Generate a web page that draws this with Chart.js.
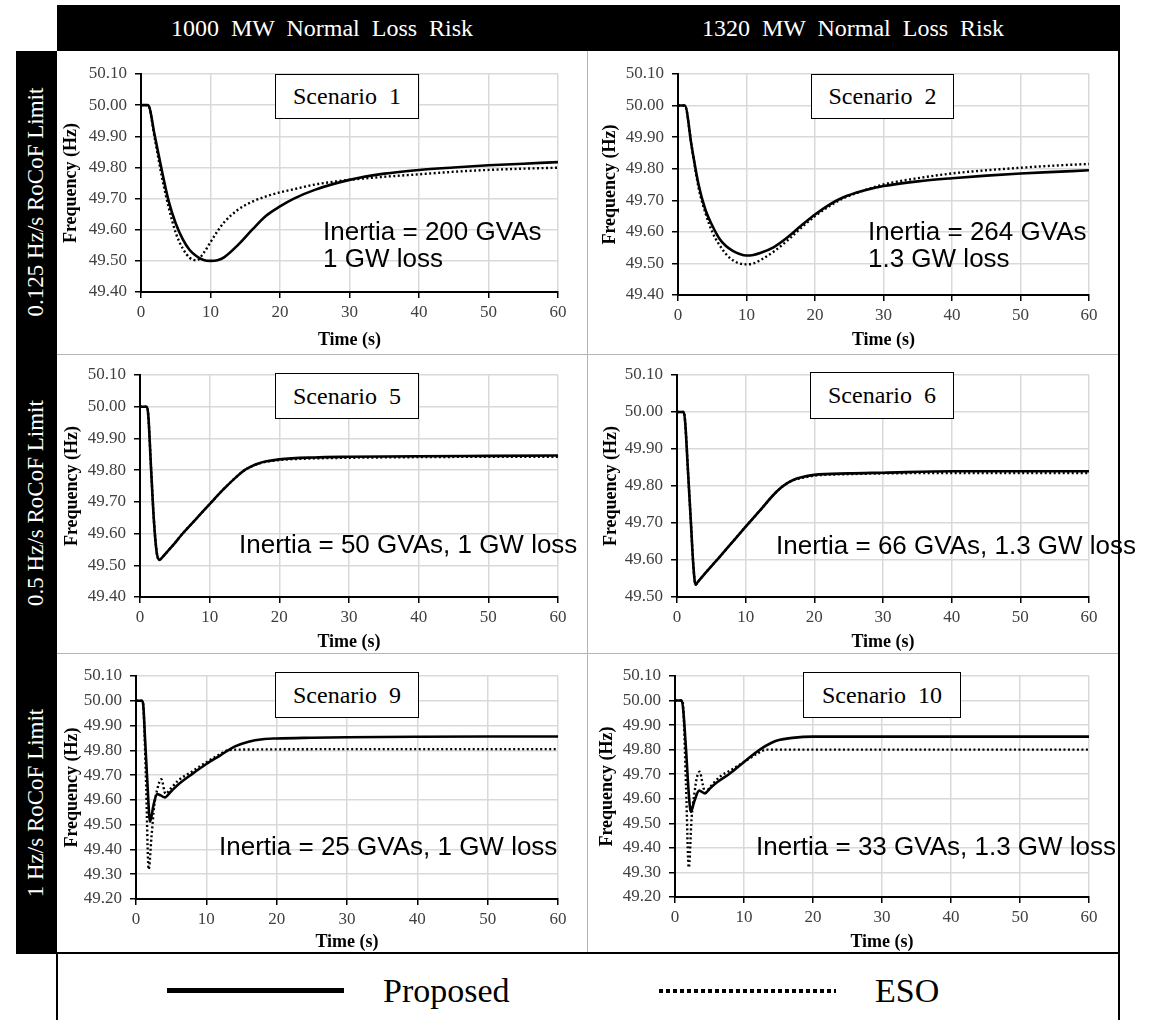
<!DOCTYPE html>
<html>
<head>
<meta charset="utf-8">
<script src="https://cdn.jsdelivr.net/npm/chart.js@4.4.1/dist/chart.umd.min.js"></script>
<style>
html, body { margin: 0; padding: 0; background: #fff; }
#fig { position: relative; width: 1166px; height: 1020px; overflow: hidden; background: #fff; font-family: 'Liberation Serif', 'Times New Roman', serif; }
.bar { position: absolute; background: #000; }
.line { position: absolute; }
.hdrText { position: absolute; top: 5px; height: 46px; color: #fff; font-size: 24px; word-spacing: 6px; display: flex; align-items: center; justify-content: center; white-space: nowrap; }
.rowText { position: absolute; left: 36px; color: #fff; font-size: 23px; white-space: nowrap; transform: translate(-50%, -50%) rotate(-90deg); }
canvas { position: absolute; }
.box { position: absolute; background: #fff; border: 1.5px solid #000; box-sizing: border-box; font-size: 24px; display: flex; align-items: center; justify-content: center; white-space: pre; }
.note { position: absolute; font-family: 'Liberation Sans', Arial, sans-serif; font-size: 26px; line-height: 27px; white-space: pre; color: #000; }
.legText { position: absolute; font-size: 34px; line-height: 38px; color: #000; }
</style>
</head>
<body>
<div id="fig">
  <!-- frame -->
  <div class="bar" style="left:57px;top:5px;width:1063px;height:46px;"></div>
  <div class="bar" style="left:16px;top:51px;width:41px;height:902px;"></div>
  <div class="hdrText" style="left:57px;width:530px;">1000 MW Normal Loss Risk</div>
  <div class="hdrText" style="left:587px;width:532px;">1320 MW Normal Loss Risk</div>
  <div class="rowText" style="top:202px;">0.125 Hz/s RoCoF Limit</div>
  <div class="rowText" style="top:503px;">0.5 Hz/s RoCoF Limit</div>
  <div class="rowText" style="top:803px;">1 Hz/s RoCoF Limit</div>
</div>

<script>
// ---- data (time in s, frequency in Hz) ----
// Scenario 1 : 1000 MW, 0.125 Hz/s
const s1T    = [0, 1, 2, 3, 4, 5, 6, 7, 8, 9, 10, 11, 12, 14, 16, 18, 20, 22, 25, 30, 35, 40, 45, 50, 55, 60];
const s1Prop = [50.00, 50.00, 49.90, 49.79, 49.69, 49.62, 49.57, 49.535, 49.515, 49.503, 49.50, 49.502, 49.512, 49.552, 49.60, 49.645, 49.675, 49.70, 49.728, 49.76, 49.78, 49.792, 49.80, 49.807, 49.812, 49.817];
const s1Eso  = [50.00, 50.00, 49.89, 49.77, 49.67, 49.59, 49.54, 49.51, 49.502, 49.525, 49.56, 49.595, 49.625, 49.665, 49.69, 49.707, 49.72, 49.73, 49.745, 49.76, 49.77, 49.778, 49.786, 49.792, 49.796, 49.799];

// Scenario 2 : 1320 MW, 0.125 Hz/s
const s2T    = [0, 1, 2, 3, 4, 5, 6, 7, 8, 9, 10, 11, 12, 14, 16, 18, 20, 22, 24, 27, 30, 35, 40, 45, 50, 55, 60];
const s2Prop = [50.00, 50.00, 49.87, 49.75, 49.67, 49.62, 49.58, 49.555, 49.54, 49.53, 49.525, 49.527, 49.533, 49.552, 49.583, 49.62, 49.655, 49.685, 49.708, 49.73, 49.745, 49.76, 49.77, 49.778, 49.785, 49.79, 49.795];
const s2Eso  = [50.00, 50.00, 49.87, 49.74, 49.66, 49.60, 49.56, 49.53, 49.51, 49.50, 49.497, 49.50, 49.51, 49.538, 49.573, 49.613, 49.65, 49.68, 49.705, 49.73, 49.75, 49.77, 49.785, 49.795, 49.803, 49.81, 49.815];

// Scenario 5 : 1000 MW, 0.5 Hz/s
const s5T    = [0, 1, 1.2, 1.6, 2.0, 2.4, 2.8, 3.2, 4, 5, 6, 8, 10, 12, 14, 15, 16, 17, 18, 20, 25, 30, 40, 50, 60];
const s5Prop = [50.00, 50.00, 49.97, 49.80, 49.64, 49.54, 49.517, 49.525, 49.545, 49.57, 49.597, 49.645, 49.693, 49.74, 49.782, 49.80, 49.812, 49.821, 49.827, 49.834, 49.84, 49.842, 49.844, 49.845, 49.846];
const s5Eso  = [50.00, 50.00, 49.97, 49.80, 49.64, 49.54, 49.517, 49.525, 49.545, 49.57, 49.597, 49.645, 49.693, 49.74, 49.782, 49.80, 49.812, 49.82, 49.826, 49.832, 49.837, 49.839, 49.841, 49.842, 49.842];

// Scenario 6 : 1320 MW, 0.5 Hz/s
const s6T    = [0, 1, 1.2, 1.6, 2.0, 2.4, 2.7, 3.0, 4, 5, 6, 8, 10, 12, 14, 15, 16, 17, 18, 20, 25, 30, 40, 50, 60];
const s6Prop = [50.00, 50.00, 49.97, 49.84, 49.71, 49.58, 49.533, 49.54, 49.562, 49.583, 49.604, 49.647, 49.69, 49.732, 49.775, 49.793, 49.807, 49.817, 49.823, 49.83, 49.834, 49.836, 49.84, 49.84, 49.84];
const s6Eso  = [50.00, 50.00, 49.97, 49.84, 49.71, 49.58, 49.533, 49.54, 49.562, 49.583, 49.604, 49.647, 49.69, 49.732, 49.775, 49.793, 49.807, 49.816, 49.821, 49.828, 49.832, 49.834, 49.835, 49.835, 49.835];

// Scenario 9 : 1000 MW, 1 Hz/s
const s9PropT = [0, 0.8, 1.0, 1.3, 1.6, 2.0, 2.5, 3.0, 3.5, 4.1, 5, 6, 8, 10, 12, 14, 16, 18, 20, 25, 30, 40, 50, 60];
const s9Prop  = [50.00, 50.00, 49.99, 49.84, 49.68, 49.512, 49.58, 49.624, 49.618, 49.61, 49.635, 49.662, 49.705, 49.745, 49.78, 49.815, 49.835, 49.845, 49.848, 49.851, 49.853, 49.855, 49.856, 49.856];
const s9EsoT  = [0, 0.8, 1.0, 1.4, 1.8, 2.2, 2.6, 3.0, 3.6, 4.2, 5, 6, 8, 10, 12, 13, 15, 20, 30, 40, 50, 60];
const s9Eso   = [50.00, 50.00, 49.99, 49.70, 49.32, 49.45, 49.58, 49.64, 49.683, 49.625, 49.648, 49.678, 49.715, 49.752, 49.785, 49.80, 49.803, 49.804, 49.805, 49.805, 49.805, 49.805];

// Scenario 10 : 1320 MW, 1 Hz/s
const s10PropT = [0, 1.0, 1.2, 1.6, 2.0, 2.3, 2.8, 3.5, 4.35, 5, 6, 8, 10, 12.3, 14, 15.2, 17, 20, 30, 40, 50, 60];
const s10Prop  = [50.00, 50.00, 49.96, 49.80, 49.62, 49.547, 49.59, 49.633, 49.622, 49.64, 49.665, 49.704, 49.75, 49.80, 49.828, 49.84, 49.848, 49.853, 49.853, 49.853, 49.853, 49.853];
const s10EsoT  = [0, 1.0, 1.2, 1.6, 2.0, 2.4, 2.8, 3.2, 3.6, 4.0, 4.4, 5, 6.5, 8, 10, 12, 13.2, 15, 20, 30, 40, 50, 60];
const s10Eso   = [50.00, 50.00, 49.97, 49.65, 49.32, 49.52, 49.62, 49.69, 49.71, 49.66, 49.625, 49.645, 49.69, 49.715, 49.75, 49.785, 49.80, 49.80, 49.80, 49.80, 49.80, 49.80, 49.80];

const xTicks = [0, 60, 10];          // min, max, step
const seriesNames = ['Proposed', 'ESO'];

// ---- layout of the six panels (page pixels) ----
const panels = [
  { rect: [57, 51, 530, 303],  plot: [141, 74, 558, 292],  y: [49.4, 50.1], xTitleY: 340, yTitleX: 71,
    title: 'Scenario  1', box: [275, 74, 144, 45], note: 'Inertia = 200 GVAs\n1 GW loss', notePos: [323, 218],
    prop: [s1T, s1Prop], eso: [s1T, s1Eso] },
  { rect: [587, 51, 532, 303], plot: [678, 74, 1089, 295], y: [49.4, 50.1], xTitleY: 340, yTitleX: 610,
    title: 'Scenario  2', box: [811, 74, 143, 45], note: 'Inertia = 264 GVAs\n1.3 GW loss', notePos: [868, 218],
    prop: [s2T, s2Prop], eso: [s2T, s2Eso] },
  { rect: [57, 354, 530, 299], plot: [140, 375, 558, 597], y: [49.4, 50.1], xTitleY: 642, yTitleX: 72.5,
    title: 'Scenario  5', box: [275, 373, 144, 46], note: 'Inertia = 50 GVAs, 1 GW loss', notePos: [239, 531],
    prop: [s5T, s5Prop], eso: [s5T, s5Eso] },
  { rect: [587, 354, 532, 299], plot: [677, 375, 1089, 597], y: [49.5, 50.1], xTitleY: 642, yTitleX: 611,
    title: 'Scenario  6', box: [810, 372, 144, 47], note: 'Inertia = 66 GVAs, 1.3 GW loss', notePos: [776, 532],
    prop: [s6T, s6Prop], eso: [s6T, s6Eso] },
  { rect: [57, 653, 530, 300], plot: [136, 676, 558, 899], y: [49.2, 50.1], xTitleY: 942, yTitleX: 72.5,
    title: 'Scenario  9', box: [275, 672, 144, 46], note: 'Inertia = 25 GVAs, 1 GW loss', notePos: [219, 833],
    prop: [s9PropT, s9Prop], eso: [s9EsoT, s9Eso] },
  { rect: [587, 653, 532, 300], plot: [675, 676, 1089, 897], y: [49.2, 50.1], xTitleY: 942, yTitleX: 607,
    title: 'Scenario  10', box: [803, 672, 158, 46], note: 'Inertia = 33 GVAs, 1.3 GW loss', notePos: [756, 833],
    prop: [s10PropT, s10Prop], eso: [s10EsoT, s10Eso] }
];

const fig = document.getElementById('fig');
const SERIF = "'Liberation Serif', 'Times New Roman', serif";
Chart.defaults.font.family = SERIF;

function toPoints(t, v) { return t.map((x, i) => ({ x: x, y: v[i] })); }

function addDiv(cls, css, text) {
  const d = document.createElement('div');
  d.className = cls;
  d.style.cssText = css;
  if (text !== undefined) d.textContent = text;
  fig.appendChild(d);
  return d;
}

panels.forEach(p => {
  const [L, T, W, H] = p.rect;
  const [pl, pt, pr, pb] = p.plot;
  const cv = document.createElement('canvas');
  cv.width = W; cv.height = H;
  cv.style.left = L + 'px'; cv.style.top = T + 'px';
  cv.style.width = W + 'px'; cv.style.height = H + 'px';
  fig.appendChild(cv);

  const yW = pl - L;
  const xH = T + H - pb;
  const titleHalf = 18 * 1.2 / 2;
  const tickFont = { family: SERIF, size: 17 };
  const titleFont = { family: SERIF, size: 18, weight: 'bold' };

  new Chart(cv, {
    type: 'line',
    data: {
      datasets: [
        { label: seriesNames[0], data: toPoints(p.prop[0], p.prop[1]), borderColor: '#000', borderWidth: 2.6,
          pointRadius: 0, cubicInterpolationMode: 'monotone', fill: false },
        { label: seriesNames[1], data: toPoints(p.eso[0], p.eso[1]), borderColor: '#000', borderWidth: 2.4,
          borderDash: [2, 2.5], pointRadius: 0, cubicInterpolationMode: 'monotone', fill: false }
      ]
    },
    options: {
      responsive: false,
      animation: false,
      layout: { padding: { left: 0, top: pt - T, right: L + W - pr, bottom: 0 } },
      plugins: { legend: { display: false }, tooltip: { enabled: false } },
      scales: {
        x: {
          type: 'linear', min: xTicks[0], max: xTicks[1],
          ticks: { stepSize: xTicks[2], color: '#404040', font: tickFont, padding: 4, maxRotation: 0 },
          grid: { color: '#d9d9d9', lineWidth: 1.5, tickColor: '#000', tickLength: 6 },
          border: { color: '#000', width: 2 },
          title: { display: true, text: 'Time (s)', color: '#000', font: titleFont,
                   padding: { top: 0, bottom: (T + H - p.xTitleY) - titleHalf } },
          afterFit: s => { s.height = xH; }
        },
        y: {
          type: 'linear', min: p.y[0], max: p.y[1],
          ticks: { stepSize: 0.1, color: '#404040', font: tickFont, padding: 8,
                   callback: v => v.toFixed(2) },
          grid: { color: '#d9d9d9', lineWidth: 1.5, tickColor: '#000', tickLength: 6 },
          border: { color: '#000', width: 2 },
          title: { display: true, text: 'Frequency (Hz)', color: '#000', font: titleFont,
                   padding: { top: (p.yTitleX - L) - titleHalf, bottom: 0 } },
          afterFit: s => { s.width = yW; }
        }
      }
    }
  });
});

// panel dividers
addDiv('line', 'left:587px;top:51px;width:1px;height:902px;background:#b4b4b4;');
addDiv('line', 'left:57px;top:354px;width:1062px;height:1px;background:#b4b4b4;');
addDiv('line', 'left:57px;top:653px;width:1062px;height:1px;background:#b4b4b4;');
addDiv('line', 'left:1118px;top:5px;width:2px;height:1015px;background:#000;');
addDiv('line', 'left:16px;top:952px;width:1104px;height:2px;background:#000;');
addDiv('line', 'left:56px;top:952px;width:2px;height:68px;background:#000;');

// scenario boxes and notes
panels.forEach(p => {
  const [bx, by, bw, bh] = p.box;
  addDiv('box', `left:${bx}px;top:${by}px;width:${bw}px;height:${bh}px;`, p.title);
  addDiv('note', `left:${p.notePos[0]}px;top:${p.notePos[1]}px;`, p.note);
});

// legend
addDiv('line', 'left:167px;top:988px;width:177px;height:5px;background:#000;');
addDiv('legText', 'left:383px;top:972px;', seriesNames[0]);
addDiv('line', 'left:659px;top:989px;width:177px;height:4px;background:repeating-linear-gradient(to right,#000 0,#000 4px,transparent 4px,transparent 7px);');
addDiv('legText', 'left:875px;top:972px;', seriesNames[1]);
</script>
</body>
</html>
